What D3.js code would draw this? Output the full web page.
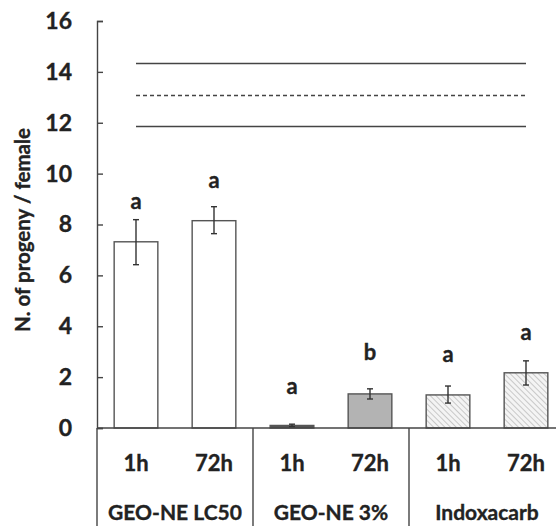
<!DOCTYPE html>
<html>
<head>
<script src="https://cdn.jsdelivr.net/npm/d3@7"></script>
<style>
  body { margin: 0; background: #fff; }
  svg text { font-family: Lato, "Open Sans", sans-serif; font-weight: bold; fill: #222; stroke: #222; stroke-width: 0.35px; }
</style>
</head>
<body>
<svg id="chart" width="556" height="526"></svg>
<script>
// data
var bars = ["LC50-1h", "LC50-72h", "3%-1h", "3%-72h", "Ind-1h", "Ind-72h"];
var times = ["1h", "72h", "1h", "72h", "1h", "72h"];
var groups = ["GEO-NE LC50", "GEO-NE 3%", "Indoxacarb"];
var means = [7.32, 8.15, 0.1, 1.34, 1.3, 2.17];
var errLow = [6.42, 7.64, 0.05, 1.14, 0.98, 1.69];
var errHigh = [8.19, 8.7, 0.15, 1.54, 1.65, 2.64];
var letters = ["a", "a", "a", "b", "a", "a"];
var letterAt = [8.6, 9.43, 1.34, 2.67, 2.59, 3.46];
var fills = ["white", "white", "#555", "#b3b3b3", "url(#hatch)", "url(#hatch)"];
var refLines = [14.33, 13.07, 11.85];
var refDash = [false, true, false];
var yTicks = [0, 2, 4, 6, 8, 10, 12, 14, 16];

var svg = d3.select("#chart");
var x0 = 97;

var y = d3.scaleLinear().domain([0, 16]).range([428, 21]);
var x = d3.scaleBand().domain(bars).range([x0, x0 + 78 * 6]).paddingInner(0.44).paddingOuter(0.22);

var defs = svg.append("defs");
var pat = defs.append("pattern").attr("id", "hatch").attr("patternUnits", "userSpaceOnUse")
  .attr("width", 4).attr("height", 4).attr("patternTransform", "rotate(-45)");
pat.append("rect").attr("width", 4).attr("height", 4).attr("fill", "#f4f4f4");
pat.append("line").attr("x1", 0).attr("y1", 0).attr("x2", 0).attr("y2", 4)
  .attr("stroke", "#b5b5b5").attr("stroke-width", 1.4);

// y axis
var yAxis = d3.axisLeft(y).tickValues(yTicks).tickSize(-6).tickPadding(25);
var ga = svg.append("g").attr("transform", "translate(" + x0 + ",0)").call(yAxis);
ga.select(".domain").attr("stroke", "#444").attr("stroke-width", 1.4);
ga.selectAll(".tick line").attr("stroke", "#444").attr("stroke-width", 1.4);
ga.selectAll("text").style("font-size", "23px").attr("fill", "#222");
svg.append("line").attr("x1", x0).attr("x2", x0).attr("y1", y(0)).attr("y2", 526)
  .attr("stroke", "#444").attr("stroke-width", 1.4);

svg.append("text").attr("transform", "translate(30,230) rotate(-90)")
  .attr("text-anchor", "middle").style("font-size", "20.5px").text("N. of progeny / female");

// reference lines
svg.selectAll(".ref").data(refLines).enter().append("line")
  .attr("x1", x(bars[0]) + x.bandwidth() / 2).attr("x2", x(bars[5]) + x.bandwidth() / 2)
  .attr("y1", function(d) { return y(d); }).attr("y2", function(d) { return y(d); })
  .attr("stroke", "#444").attr("stroke-width", 1.4)
  .attr("stroke-dasharray", function(d, i) { return refDash[i] ? "4,3" : null; });

// bars
svg.selectAll(".bar").data(means).enter().append("rect")
  .attr("x", function(d, i) { return x(bars[i]); })
  .attr("y", function(d) { return y(d); })
  .attr("width", x.bandwidth())
  .attr("height", function(d) { return y(0) - y(d); })
  .attr("fill", function(d, i) { return fills[i]; })
  .attr("stroke", "#555").attr("stroke-width", 1.4);

// error bars
var cx = function(i) { return x(bars[i]) + x.bandwidth() / 2; };
var eb = svg.selectAll(".err").data(means).enter().append("g").attr("stroke", "#333").attr("stroke-width", 1.4);
eb.append("line").attr("x1", function(d, i) { return cx(i); }).attr("x2", function(d, i) { return cx(i); })
  .attr("y1", function(d, i) { return y(errLow[i]); }).attr("y2", function(d, i) { return y(errHigh[i]); });
eb.append("line").attr("x1", function(d, i) { return cx(i) - 3; }).attr("x2", function(d, i) { return cx(i) + 3; })
  .attr("y1", function(d, i) { return y(errLow[i]); }).attr("y2", function(d, i) { return y(errLow[i]); });
eb.append("line").attr("x1", function(d, i) { return cx(i) - 3; }).attr("x2", function(d, i) { return cx(i) + 3; })
  .attr("y1", function(d, i) { return y(errHigh[i]); }).attr("y2", function(d, i) { return y(errHigh[i]); });

// significance letters
svg.selectAll(".letter").data(letters).enter().append("text")
  .attr("x", function(d, i) { return cx(i); })
  .attr("y", function(d, i) { return y(letterAt[i]); })
  .attr("text-anchor", "middle").style("font-size", "22px").text(function(d) { return d; });

// baseline + category axis
svg.append("line").attr("x1", x0).attr("x2", 556).attr("y1", y(0)).attr("y2", y(0))
  .attr("stroke", "#444").attr("stroke-width", 1.4);
svg.selectAll(".sep").data([2, 4]).enter().append("line")
  .attr("x1", function(d) { return x0 + x.step() * d; }).attr("x2", function(d) { return x0 + x.step() * d; })
  .attr("y1", y(0)).attr("y2", 526).attr("stroke", "#444").attr("stroke-width", 1.4);

svg.selectAll(".time").data(times).enter().append("text")
  .attr("x", function(d, i) { return cx(i); }).attr("y", 471)
  .attr("text-anchor", "middle").style("font-size", "22px").text(function(d) { return d; });

svg.selectAll(".grp").data(groups).enter().append("text")
  .attr("x", function(d, i) { return x0 + x.step() * (2 * i + 1); }).attr("y", 520)
  .attr("text-anchor", "middle").style("font-size", "21px").text(function(d) { return d; });
</script>
</body>
</html>
